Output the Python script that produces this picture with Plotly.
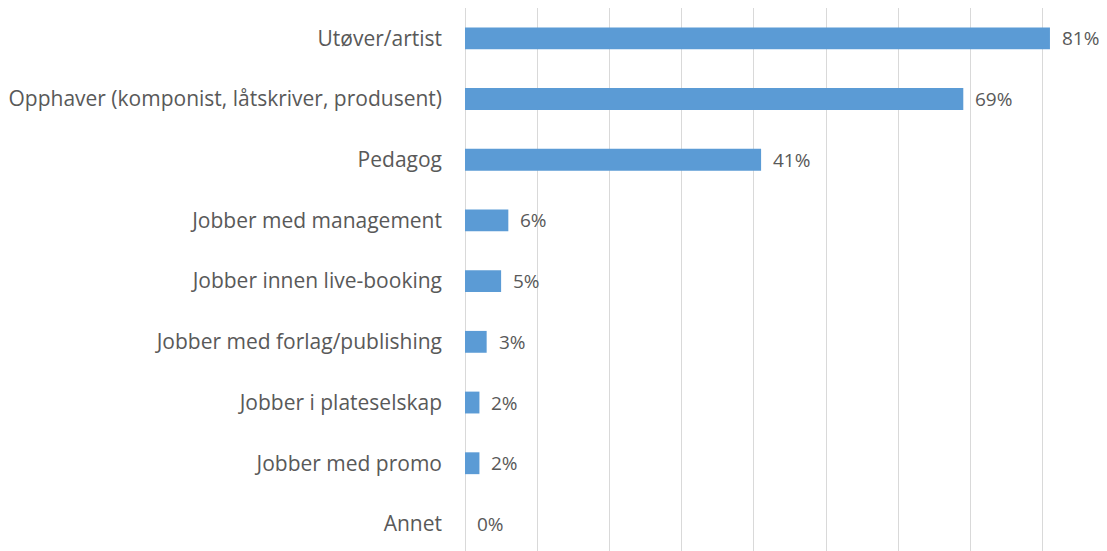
import plotly.graph_objects as go

categories = [
    "Utøver/artist",
    "Opphaver (komponist, låtskriver, produsent)",
    "Pedagog",
    "Jobber med management",
    "Jobber innen live-booking",
    "Jobber med forlag/publishing",
    "Jobber i plateselskap",
    "Jobber med promo",
    "Annet",
]
values = [0.81, 0.69, 0.41, 0.06, 0.05, 0.03, 0.02, 0.02, 0.0]
labels = ["81%", "69%", "41%", "6%", "5%", "3%", "2%", "2%", "0%"]

# bottom-to-top order for plotting
cats_plot = categories[::-1]
vals_plot = values[::-1]
labs_plot = labels[::-1]

TEXT = "#595959"
FONT = "Open Sans, Liberation Sans, sans-serif"
FS = 21

fig = go.Figure()
fig.add_trace(go.Bar(
    x=vals_plot, y=cats_plot, orientation="h",
    marker=dict(color="#5B9BD5", line=dict(width=0)),
    width=0.36,
    hoverinfo="skip",
))

for c, v, t in zip(cats_plot, vals_plot, labs_plot):
    fig.add_annotation(x=v, y=c, text=t, showarrow=False, xanchor="left",
                       xshift=10, font=dict(family=FONT, size=19, color=TEXT))

fig.update_layout(
    width=1099, height=543,
    margin=dict(l=457, r=0, t=0, b=0),
    paper_bgcolor="white", plot_bgcolor="white",
    showlegend=False,
    font=dict(family=FONT, size=FS, color=TEXT),
    xaxis=dict(range=[0, 0.889], dtick=0.1, showticklabels=False,
               showgrid=True, gridcolor="#D9D9D9", gridwidth=1.3,
               zeroline=True, zerolinecolor="#D9D9D9", zerolinewidth=1.3,
               showline=False, fixedrange=True),
    yaxis=dict(type="category", categoryorder="array", categoryarray=cats_plot,
               range=[-0.446, 8.5], showgrid=False, zeroline=False,
               showline=False, ticks="", ticklabelstandoff=22,
               tickfont=dict(family=FONT, size=FS, color=TEXT)),
)

fig.write_html("out.html")
